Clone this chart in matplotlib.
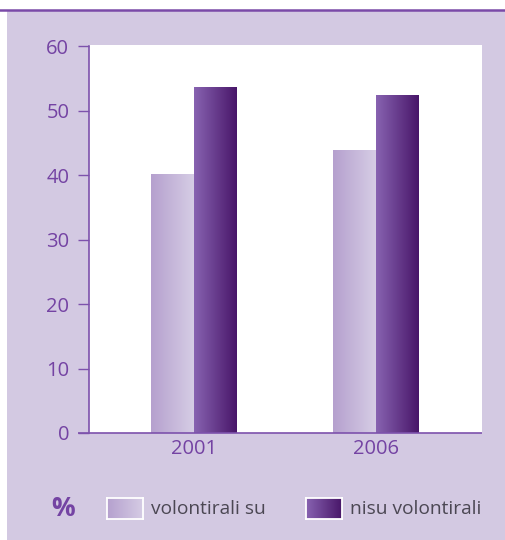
import numpy as np
import matplotlib
matplotlib.use("Agg")
import matplotlib.pyplot as plt
from matplotlib.colors import LinearSegmentedColormap
from matplotlib.lines import Line2D

plt.rcParams['font.family'] = ['Open Sans', 'DejaVu Sans']

# Data
years = ["2001", "2006"]
volontirali_su = [40.1, 43.9]
nisu_volontirali = [53.6, 52.4]
series_labels = ["volontirali su", "nisu volontirali"]
y_ticks = [0, 10, 20, 30, 40, 50, 60]

W, H = 506, 540
BG = "#D3C9E2"
PURPLE = "#7443A3"
AXIS = "#7D52AC"
TEXT_GRAY = "#4B4753"

light_cmap = LinearSegmentedColormap.from_list("light", ["#B5A0CE", "#D6CDE5"])
dark_cmap = LinearSegmentedColormap.from_list("dark", ["#8863B1", "#481669"])

fig = plt.figure(figsize=(W / 100, H / 100), dpi=100)
fig.patch.set_facecolor("white")

# lavender panel and top rule
fig.patches.append(plt.Rectangle((7 / W, 0), 1, 1 - 11 / H, transform=fig.transFigure,
                                 facecolor=BG, edgecolor="none", zorder=-10))
fig.lines.append(Line2D([0, 1], [1 - 9.8 / H, 1 - 9.8 / H], transform=fig.transFigure,
                        color="#7A4AA8", linewidth=1.8, zorder=-5))

ax_left, ax_right, ax_top, ax_bottom = 88.7, 481.7, 44.5, 433.0
ax = fig.add_axes([ax_left / W, 1 - ax_bottom / H, (ax_right - ax_left) / W, (ax_bottom - ax_top) / H])
ax.set_facecolor("white")

x = np.arange(len(years))
width = 0.236

grad = np.linspace(0, 1, 256).reshape(1, -1)

def gradient_bars(xpos, values, cmap):
    bars = ax.bar(xpos, values, width=width, facecolor="none", edgecolor="none", zorder=2)
    for b in bars:
        x0, y0 = b.get_x(), b.get_y()
        im = ax.imshow(grad, cmap=cmap, aspect="auto", extent=(x0, x0 + b.get_width(), y0, y0 + b.get_height()),
                       zorder=2, interpolation="bilinear")
        im.set_clip_path(b)
    return bars

gradient_bars(x - width / 2, volontirali_su, light_cmap)
gradient_bars(x + width / 2, nisu_volontirali, dark_cmap)
ax.set_xlim(-0.577, 1.582)
ax.set_ylim(0, 60.25)

for side in ["top", "right", "bottom"]:
    ax.spines[side].set_visible(False)
ax.spines["left"].set_color(AXIS)
ax.spines["left"].set_linewidth(1.2)
ax.spines["left"].set_bounds(0, 60)

# baseline extends left past the y axis like a tick
ax.plot([-11 / (ax_right - ax_left), 1], [0, 0], transform=ax.transAxes, color=AXIS,
        linewidth=1.2, clip_on=False, zorder=5, solid_capstyle="butt")

ax.set_yticks(y_ticks)
ax.set_yticklabels([str(t) for t in y_ticks])
ax.tick_params(axis="y", direction="out", length=8, width=1.0, color=AXIS, pad=6,
               labelsize=14.5, labelcolor=PURPLE)
ax.set_xticks(x)
ax.set_xticklabels(years)
ax.tick_params(axis="x", length=0, pad=4, labelsize=14.5, labelcolor=PURPLE)

# legend
fig.text(51 / W, 1 - 508 / H, "%", fontsize=19, fontweight="bold", color=PURPLE,
         ha="left", va="center")

def swatch(px0, cmap, label):
    sx = fig.add_axes([px0 / W, 1 - 519 / H, 36 / W, 21 / H])
    sx.imshow(grad, cmap=cmap, aspect="auto", interpolation="bilinear")
    sx.set_xticks([])
    sx.set_yticks([])
    for s in sx.spines.values():
        s.set_color("white")
        s.set_linewidth(1.3)
    fig.text((px0 + 44) / W, 1 - 509 / H, label, fontsize=13.8, color=TEXT_GRAY,
             ha="left", va="center")

swatch(107, light_cmap, series_labels[0])
swatch(306, dark_cmap, series_labels[1])

fig.savefig("out.png", dpi=100, facecolor=fig.get_facecolor())
